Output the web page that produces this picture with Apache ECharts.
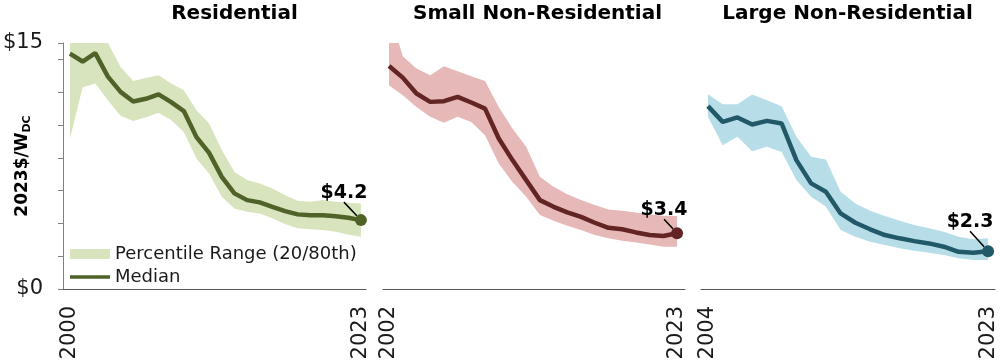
<!DOCTYPE html>
<html>
<head>
<meta charset="utf-8">
<script src="https://cdn.jsdelivr.net/npm/echarts@6/dist/echarts.min.js"></script>
<style>html,body{margin:0;padding:0;background:#fff}#c{width:1000px;height:361px}</style>
</head>
<body>
<div id="c"></div>
<script>
// ---------------- data ----------------
const panelTitles = ['Residential', 'Small Non-Residential', 'Large Non-Residential'];
const legendLabels = ['Percentile Range (20/80th)', 'Median'];
const yAxisName = '2023$/W';
const yAxisNameSub = 'DC';
const yLabelValues = [0, 15];
const yTickValues = [0, 2, 4, 6, 8, 10, 12, 14, 15];

const resYears  = [2000,2001,2002,2003,2004,2005,2006,2007,2008,2009,2010,2011,2012,2013,2014,2015,2016,2017,2018,2019,2020,2021,2022,2023];
const resMedian = [14.35,13.87,14.38,12.95,12.02,11.43,11.6,11.87,11.39,10.85,9.26,8.3,6.84,5.83,5.42,5.28,5.01,4.75,4.55,4.49,4.49,4.43,4.34,4.2];
const resLower  = [9.18,12.28,12.53,11.51,10.57,10.25,10.48,10.75,10.31,9.58,7.96,7.05,5.62,4.91,4.71,4.61,4.31,3.96,3.7,3.64,3.59,3.49,3.33,3.19];
const resUpper  = [16.5,17.2,17.0,15.0,13.54,12.69,12.86,13.03,12.53,12.12,10.9,10.09,8.47,7.14,6.64,6.44,6.13,5.72,5.38,5.32,5.42,5.32,5.26,5.22];

const smallYears  = [2002,2003,2004,2005,2006,2007,2008,2009,2010,2011,2012,2013,2014,2015,2016,2017,2018,2019,2020,2021,2022,2023];
const smallMedian = [13.6,12.89,11.92,11.41,11.45,11.71,11.37,11.0,9.18,7.86,6.64,5.42,5.01,4.67,4.4,4.04,3.73,3.64,3.45,3.29,3.23,3.4];
const smallLower  = [12.42,11.81,11.1,10.5,10.13,10.5,10.19,9.38,7.66,6.53,5.62,4.51,4.16,3.86,3.59,3.29,3.09,2.94,2.84,2.72,2.58,2.58];
const smallUpper  = [17.0,14.19,13.44,13.03,13.58,13.28,12.97,12.69,11.1,9.79,8.67,6.84,6.23,5.77,5.42,5.12,4.85,4.77,4.67,4.55,4.47,4.45];

const largeYears  = [2004,2005,2006,2007,2008,2009,2010,2011,2012,2013,2014,2015,2016,2017,2018,2019,2020,2021,2022,2023];
const largeMedian = [11.15,10.19,10.46,10.03,10.25,10.09,7.86,6.44,5.93,4.61,4.04,3.64,3.29,3.09,2.92,2.78,2.58,2.27,2.21,2.3];
const largeLower  = [10.5,8.77,9.28,8.4,8.67,8.36,6.64,5.62,5.01,3.59,3.19,2.88,2.68,2.48,2.33,2.21,2.07,1.87,1.77,1.77];
const largeUpper  = [11.88,11.27,11.27,11.86,11.51,11.15,9.28,8.06,7.9,5.93,5.22,4.77,4.45,4.16,3.9,3.7,3.49,3.19,3.03,3.09];

// ---------------- styles / layout ----------------
const FONT = 'DejaVu Sans';
const panels = [
  {title: panelTitles[0], years: resYears, median: resMedian, lower: resLower, upper: resUpper,
   band: '#d7e4bd', line: '#4f6228', left: 63, width: 303, xmin: 1999.45, xmax: 2023.4, center: 234.5, lbl: [-17, 1]},
  {title: panelTitles[1], years: smallYears, median: smallMedian, lower: smallLower, upper: smallUpper,
   band: '#e6b9b8', line: '#632523', left: 383, width: 302, xmin: 2001.56, xmax: 2023.58, center: 537.5, lbl: [-13, 5]},
  {title: panelTitles[2], years: largeYears, median: largeMedian, lower: largeLower, upper: largeUpper,
   band: '#b7dee8', line: '#215968', left: 701, width: 294, xmin: 2003.53, xmax: 2023.47, center: 847.5, lbl: [-18, -1]}
];

const grid = [], xAxis = [], yAxis = [], series = [], graphic = [];
panels.forEach((p, i) => {
  grid.push({left: p.left, width: p.width, top: 43, height: 246, containLabel: false, outerBoundsMode: 'none'});
  const first = p.years[0], last = p.years[p.years.length - 1];
  xAxis.push({
    type: 'value', gridIndex: i, min: p.xmin, max: p.xmax,
    axisLine: {show: true, lineStyle: {color: '#595959', width: 1}},
    axisTick: {show: false},
    splitLine: {show: false},
    axisLabel: {show: true, customValues: [first, last], rotate: 90, margin: 17,
      fontSize: 21, color: '#1a1a1a', fontFamily: FONT, formatter: v => String(v)}
  });
  yAxis.push({
    type: 'value', gridIndex: i, min: 0, max: 15, show: i === 0,
    name: i === 0 ? `{a|${yAxisName}}{b|${yAxisNameSub}}` : '',
    nameLocation: 'middle', nameRotate: 90, nameGap: 30, nameMoveOverlap: false,
    nameTextStyle: {rich: {
      a: {fontSize: 17, fontWeight: 'bold', color: '#000', fontFamily: FONT, verticalAlign: 'middle'},
      b: {fontSize: 11, fontWeight: 'bold', color: '#000', fontFamily: FONT, verticalAlign: 'middle', padding: [9, 0, 0, 0]}
    }},
    axisLine: {show: true, lineStyle: {color: '#808080', width: 1}},
    axisTick: {show: true, length: 5, customValues: yTickValues, lineStyle: {color: '#808080'}},
    splitLine: {show: false},
    axisLabel: {show: true, customValues: yLabelValues, margin: 20, fontSize: 21, color: '#1a1a1a',
      fontFamily: FONT, formatter: v => '$' + v}
  });
  // percentile band as one polygon: upper edge forward, lower edge backward
  series.push({
    type: 'custom', name: legendLabels[0], xAxisIndex: i, yAxisIndex: i, clip: true, silent: true,
    data: [[first, p.lower[0]]],
    itemStyle: {color: p.band},
    renderItem: (params, api) => {
      const pts = [];
      for (let k = 0; k < p.years.length; k++) pts.push(api.coord([p.years[k], p.upper[k]]));
      for (let k = p.years.length - 1; k >= 0; k--) pts.push(api.coord([p.years[k], p.lower[k]]));
      const cs = params.coordSys;
      return {
        type: 'polygon', shape: {points: pts}, style: {fill: p.band},
        clipPath: {type: 'rect', shape: {x: cs.x, y: cs.y, width: cs.width, height: cs.height}}
      };
    },
    z: 1
  });
  series.push({
    type: 'line', name: legendLabels[1], xAxisIndex: i, yAxisIndex: i,
    data: p.years.map((y, k) => [y, p.median[k]]),
    symbol: 'none', lineStyle: {color: p.line, width: 4.5}, itemStyle: {color: p.line}, z: 3
  });
  series.push({
    type: 'scatter', name: 'end' + i, xAxisIndex: i, yAxisIndex: i,
    data: [[last, p.median[p.median.length - 1]]],
    symbolSize: 12, itemStyle: {color: p.line, opacity: 1}, z: 4,
    label: {show: true, position: 'top', distance: 5, padding: [0, 0, 8, 0],
      formatter: d => '$' + d.value[1].toFixed(1),
      fontSize: 19, fontWeight: 'bold', color: '#000', fontFamily: FONT},
    labelLine: {show: true, length2: 0, lineStyle: {color: '#000', width: 1.5}},
    labelLayout: {dx: p.lbl[0], dy: p.lbl[1]}
  });
  graphic.push({
    type: 'text', x: p.center, y: 14,
    style: {text: p.title, fontSize: 20, fontWeight: 'bold', fontFamily: FONT, fill: '#000',
      align: 'center', verticalAlign: 'middle'}
  });
});

const chart = echarts.init(document.getElementById('c'), null, {renderer: 'canvas'});
chart.setOption({
  animation: false,
  backgroundColor: '#fff',
  textStyle: {fontFamily: FONT},
  grid, xAxis, yAxis, series, graphic,
  legend: {
    orient: 'vertical', left: 70, top: 244, padding: 0, itemWidth: 40, itemHeight: 10, itemGap: 3,
    selectedMode: false,
    textStyle: {fontSize: 18, color: '#1a1a1a', fontFamily: FONT, lineHeight: 20},
    data: [
      {name: legendLabels[0], icon: 'rect', itemStyle: {color: panels[0].band}},
      {name: legendLabels[1], icon: 'path://M0,0H43V4H0Z', itemStyle: {color: panels[0].line}}
    ]
  }
});
</script>
</body>
</html>
